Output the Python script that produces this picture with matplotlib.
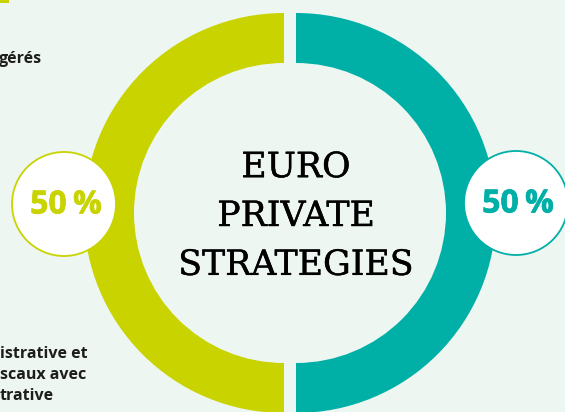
import matplotlib
matplotlib.use('Agg')
import matplotlib.pyplot as plt
import matplotlib.patches as mpatches
import matplotlib.patheffects as pe

# data
aShare = [50, 50]
aColor = ['#c8d300', '#00afa6']
sTitle = 'EURO\nPRIVATE\nSTRATEGIES'
aText_top = ['gérés']
aText_bottom = ['istrative et', 'scaux avec', 'trative']

sColor_bg = '#eef6f2'
sColor_text = '#1d1d1b'

fig = plt.figure(figsize=(5.65, 4.12), dpi=100)
fig.patch.set_facecolor(sColor_bg)
ax = fig.add_axes([0, 0, 1, 1])
ax.set_facecolor(sColor_bg)

cx, cy = 290, 213
R_out, R_in = 200, 150
gap = 6.0  # half gap between the two halves, in pixels

ax.pie(aShare, colors=aColor, radius=R_out, center=(cx, cy), startangle=90,
       explode=[gap] * len(aShare),
       wedgeprops=dict(width=R_out - R_in, linewidth=0), frame=True)

ax.set_xlim(0, 565)
ax.set_ylim(412, 0)
ax.set_aspect('equal')
ax.set_axis_off()

# badges
aBadge = [(64, 204), (516, 203)]
for (bx, by), v, c in zip(aBadge, aShare, aColor):
    circ = mpatches.Circle((bx, by), 52, facecolor='white', edgecolor=c,
                           linewidth=1.3, zorder=5)
    ax.add_patch(circ)
    ax.text(bx + 2, by + 1, f'{v}\u2009%', color=c, fontsize=23, fontweight='bold',
            family=['Open Sans', 'DejaVu Sans'], ha='center', va='center', zorder=6,
            path_effects=[pe.withStroke(linewidth=0.5, foreground=c)])

ax.text(296, 216, sTitle, ha='center', va='center', fontsize=25,
        fontname='DejaVu Serif', color='black', linespacing=1.55, zorder=6,
        path_effects=[pe.withStroke(linewidth=0.3, foreground='black')])

# side text fragments
ax.text(-1, 59, aText_top[0], ha='left', va='center', fontsize=11.5,
        fontweight='bold', family=['Open Sans', 'DejaVu Sans'], color=sColor_text)
for i, s in enumerate(aText_bottom):
    ax.text(0, 354 + i * 21, s, ha='left', va='center', fontsize=11.5,
            fontweight='bold', family=['Open Sans', 'DejaVu Sans'], color=sColor_text)

# small corner mark
ax.add_patch(mpatches.Rectangle((0, 0), 9, 2.5, facecolor=aColor[0], linewidth=0))

fig.savefig('out.png', dpi=100, facecolor=sColor_bg)
